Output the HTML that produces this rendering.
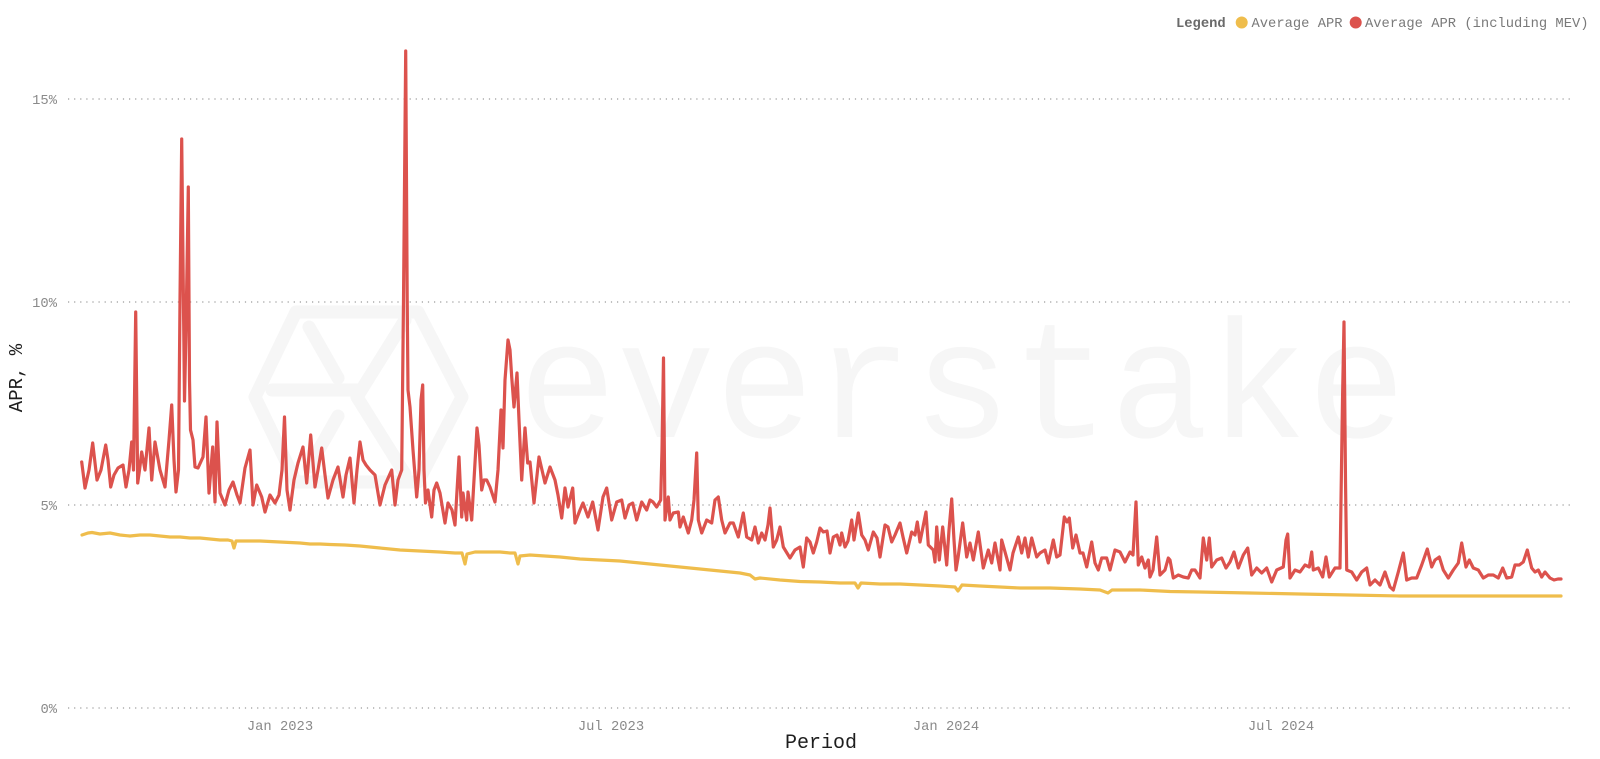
<!DOCTYPE html>
<html>
<head>
<meta charset="utf-8">
<style>
html,body{margin:0;padding:0;background:#fff;}
body{width:1600px;height:759px;overflow:hidden;}
svg{display:block;}
.mono{font-family:"Liberation Mono","DejaVu Sans Mono",monospace;}
</style>
</head>
<body>
<svg width="1600" height="759" viewBox="0 0 1600 759" xmlns="http://www.w3.org/2000/svg">
  <rect width="1600" height="759" fill="#fff"/>

  <!-- watermark -->
  <g fill="none" stroke="#f6f6f6" stroke-width="13" stroke-linejoin="round" stroke-linecap="round">
    <polygon points="296,312 418,312 462,397 418,482 296,482 255,397"/>
    <polyline points="272,390 357,390"/>
    <polyline points="309,327 338,378"/>
    <polyline points="405,320 357,397 405,474"/>
    <polyline points="309,467 338,416"/>
  </g>
  <text x="518" y="437" class="mono" font-size="168" fill="#f6f6f6" textLength="888" lengthAdjust="spacingAndGlyphs">everstake</text>

  <!-- gridlines -->
  <g stroke="#9a9a9a" stroke-width="1.2" stroke-dasharray="1.2 4.9">
    <line x1="68" y1="99" x2="1570" y2="99"/>
    <line x1="68" y1="302" x2="1570" y2="302"/>
    <line x1="68" y1="505" x2="1570" y2="505"/>
    <line x1="68" y1="708" x2="1570" y2="708"/>
  </g>

  <!-- y tick labels -->
  <g class="mono" font-size="13.8" fill="#8a8a8a" text-anchor="end">
    <text x="57" y="104">15%</text>
    <text x="57" y="307">10%</text>
    <text x="57" y="510">5%</text>
    <text x="57" y="713">0%</text>
  </g>

  <!-- x tick labels -->
  <g class="mono" font-size="13.8" fill="#8a8a8a" text-anchor="middle">
    <text x="280" y="730">Jan 2023</text>
    <text x="611" y="730">Jul 2023</text>
    <text x="946" y="730">Jan 2024</text>
    <text x="1281" y="730">Jul 2024</text>
  </g>

  <!-- axis titles -->
  <text x="821" y="748" class="mono" font-size="20" fill="#1e1e1e" text-anchor="middle">Period</text>
  <text transform="translate(22,378) rotate(-90)" class="mono" font-size="19" fill="#1e1e1e" text-anchor="middle">APR, %</text>

  <!-- legend -->
  <text x="1176" y="27" class="mono" font-size="13.8" font-weight="bold" fill="#6a6a6a">Legend</text>
  <circle cx="1241.7" cy="22.5" r="6" fill="#efbd4c"/>
  <text x="1251.5" y="27" class="mono" font-size="13.8" fill="#7a7a7a">Average APR</text>
  <circle cx="1355.7" cy="22.5" r="6" fill="#dc524d"/>
  <text x="1365" y="27" class="mono" font-size="13.8" fill="#7a7a7a">Average APR (including MEV)</text>

  <!-- yellow series -->
  <polyline fill="none" stroke="#efbd4c" stroke-width="3.2" stroke-linejoin="round" stroke-linecap="round"
    points="82,535 88,533 92,532.5 100,534 110,533 120,535 130,536 140,535 150,535 160,536 170,537 180,537 190,538 200,538 210,539 220,540 228,540 232,541 234,548 236,541 245,541 260,541 280,542 300,543 310,544 320,544 330,544.5 345,545 360,546 380,548 400,550 420,551 440,552 455,553 462,553 465,564 467,554 475,552 490,552 500,552 510,553 515,553 518,564 520,556 530,555 545,556 560,557 580,559 600,560 620,561 640,563 660,565 680,567 700,569 720,571 740,573 750,575 755,579 760,578 780,580 800,581.5 820,582 840,583 855,583 858,588 861,583 880,584 900,584 920,585 940,586 955,587 958,591 962,585 980,586 1000,587 1020,588 1050,588 1080,589 1100,590 1108,593 1112,590 1140,590 1170,591.5 1200,592 1250,593 1300,594 1350,595 1400,596 1450,596 1500,596 1530,596 1561,596"/>

  <!-- red series -->
  <polyline fill="none" stroke="#dc524d" stroke-width="3.2" stroke-linejoin="round" stroke-linecap="round"
    points="81.7,462 85,488 89,470 92.7,443 97,480 101,470 105.7,445 108,460 110.7,487 114,475 118,468 123,465 126,487 129,470 131.7,442 133.5,470 135.7,312 137.7,483 139.5,470 141.7,452 145,470 149,428 151.7,480 155,442 160,470 165,487 169,440 171.7,405 174,460 176,492 178.5,470 180,300 181.7,139 183,260 184.5,401 186,330 188.3,187 189.5,380 190.5,430 193,440 195,467 198,468 203,457 206,417 209,493 212.7,447 215,502 217,422 220,493 225,505 229,490 233,482 237,495 240,503 245,468 250,450 253,505 256.7,485 261.7,497 265,512 270,495 275,503 279,495 282,470 284.5,417 287,490 290,510 294,480 298,463 303,447 306.7,483 310.7,435 315,487 318,470 321.7,448 325,475 328,498 333,480 338,467 343,497 346,475 350,458 354,503 357,470 360,442 363,460 366,465 370,470 375,475 380,505 385,485 391.7,470 395,505 398,480 401.7,470 403.5,300 405.7,51 407.2,300 408,390 410,407 413,450 416.7,497 419,470 421,400 422.7,385 424,470 425.5,503 428,490 431.7,517 434,490 436.7,483 440,493 445,523 448,503 452,510 455,525 459,457 461.7,517 463,493 466.7,520 468,492 471.7,520 474,480 477,428 479,445 481.7,490 484,480 486.7,480 490,487 495,502 498,470 501,410 503,448 505,380 508,340 510,350 511.7,377 514,407 517,373 519,420 521.7,480 525,428 527.7,463 530,462 534,503 539,457 542,470 545,483 550,467 555,480 558,495 561.7,518 565,488 568,507 572.7,488 575,523 580,510 583,503 588,517 592.7,502 598,530 603,497 606.7,488 611.7,520 616.7,502 621.7,500 625,518 629,505 632.7,503 636.7,520 641.7,502 646.7,510 650,500 653,502 656.7,507 660.7,500 662,450 663.5,358 665,520 668.3,497 670,520 673.3,513 678.3,512 680,527 683.3,517 688.3,533 691.7,520 694,500 696.7,453 698.3,520 701.7,533 706.7,520 711.7,523 715,500 718.3,497 721.7,520 725,533 730,523 733.3,523 738.3,537 743.3,513 746.7,537 751.7,540 755,527 758.3,543 761.7,533 765,540 768,525 770,508 773.3,547 776.7,540 780,527 783.3,547 790,558 795,550 800,547 803.3,567 806.7,538 810,542 813.3,553 816.7,542 820,528 823.3,532 827,531 830,553 833.3,537 837,535 840,545 841.7,533 845,547 848,541 851.7,520 854,540 858.3,513 861.7,535 865,540 868.3,550 873.3,532 877,538 880,557 885,525 888,527 891.7,542 895,535 900,523 903,537 906.7,553 911.7,532 915,535 917.3,522 920,542 926,512 928.3,545 933.3,550 935,562 936.7,527 939.3,560 942.7,527 946.7,565 949,530 951.7,499 954,540 956,570 958,558 962.7,523 966.7,557 970,543 973.3,560 978.3,532 983.3,568 988.3,550 991.7,563 995,543 1000,570 1001.7,540 1006.7,558 1010,570 1013,553 1018.3,537 1021.7,553 1025,538 1028.3,557 1031.7,538 1036.7,557 1040,553 1045,550 1048.3,563 1053.3,540 1056.7,557 1060,555 1064.3,517 1067,522 1069.3,518 1072.7,548 1076,535 1080,553 1083,553 1086.7,567 1091.7,542 1095,563 1098.3,570 1101.7,558 1106.7,558 1110,570 1115,550 1120,552 1125,562 1130,552 1133,555 1136,502 1138.3,565 1141.7,557 1145,568 1148.3,560 1150,577 1153,570 1156.7,537 1160,575 1165,570 1168.3,558 1170,560 1173.3,578 1178.3,575 1183.3,577 1188.3,578 1191.7,570 1195,570 1200,578 1203.3,538 1206.7,560 1209.3,538 1211.7,567 1216.7,560 1221.7,558 1226,568 1230,562 1234,552 1238.3,568 1243.3,555 1247.7,548 1251.7,575 1256.7,568 1261.7,573 1266.7,568 1271.7,582 1276.7,570 1283.3,567 1286,540 1287.7,534 1290,578 1295,570 1300,572 1305,565 1309.3,567 1311.7,552 1313.3,570 1318.3,568 1322.7,577 1326,557 1329.3,577 1335,568 1340,568 1342.5,400 1344,322 1345.5,480 1346.7,570 1351.7,572 1356.7,580 1361.7,572 1366.7,568 1370,585 1375,580 1380,585 1385,572 1390,587 1393.3,590 1398.3,572 1403.3,553 1406.7,580 1411.7,578 1416.7,578 1421.7,565 1427.3,549 1431.7,567 1435,560 1439.3,557 1443.3,570 1448.3,578 1453.3,570 1458.3,563 1461.7,543 1466,567 1469.3,560 1473.3,568 1478.3,570 1483.3,578 1488.3,575 1493.3,575 1498.3,578 1502.7,568 1506.7,578 1511.7,577 1515,565 1519.3,565 1523.3,562 1527.3,550 1531.7,568 1535,572 1538.3,570 1541.7,577 1545,572 1550,578 1554,580 1558,579 1561,579"/>
</svg>
</body>
</html>
